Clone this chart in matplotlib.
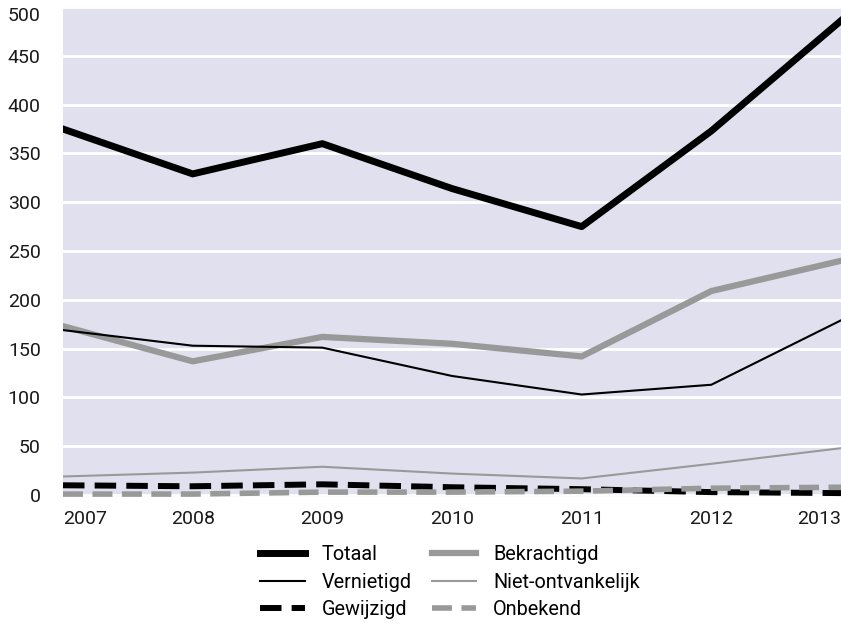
import matplotlib
matplotlib.use("Agg")
import matplotlib.pyplot as plt

plt.rcParams['font.family'] = ['Roboto', 'DejaVu Sans']

years = [2007, 2008, 2009, 2010, 2011, 2012, 2013]
totaal = [375, 329, 360, 314, 275, 373, 486]
bekrachtigd = [173, 137, 162, 155, 142, 209, 240]
vernietigd = [169, 153, 151, 122, 103, 113, 179]
niet_ontvankelijk = [19, 23, 29, 22, 17, 32, 48]
gewijzigd = [10, 9, 11, 8, 6, 3, 2]
onbekend = [1, 1, 3, 3, 4, 7, 8]
yticks = [0, 50, 100, 150, 200, 250, 300, 350, 400, 450, 500]

bg = '#e1e0ef'
grey = '#999999'
dash = (0, (3.6, 1.7))

fig = plt.figure(figsize=(8.41, 6.25), dpi=100)
ax = fig.add_axes([63/841, 1 - 497/625, 1 - 63/841, (497 - 7)/625])
ax.set_facecolor(bg)

h_tot, = ax.plot(years, totaal, color='black', lw=5, label='Totaal', zorder=6)
h_bek, = ax.plot(years, bekrachtigd, color=grey, lw=4.5, label='Bekrachtigd', zorder=4)
h_ver, = ax.plot(years, vernietigd, color='black', lw=1.5, label='Vernietigd', zorder=5)
h_nie, = ax.plot(years, niet_ontvankelijk, color=grey, lw=1.5, label='Niet-ontvankelijk', zorder=4)
h_gew, = ax.plot(years, gewijzigd, color='black', lw=4.3, ls=dash, label='Gewijzigd', zorder=4)
h_onb, = ax.plot(years, onbekend, color=grey, lw=4.0, ls=dash, label='Onbekend', zorder=5)

ax.set_xlim(2007, 2013)
ax.set_ylim(-2, 500)
ax.set_yticks(yticks)
ax.set_xticks(years)
ax.set_xticklabels([str(y) for y in years])
labels = ax.get_xticklabels()
labels[0].set_horizontalalignment('left')
labels[-1].set_horizontalalignment('right')
ylabels = ax.get_yticklabels()
ylabels[-1].set_verticalalignment('top')

ax.grid(axis='y', color='white', lw=2)
ax.set_axisbelow(True)
for s in ax.spines.values():
    s.set_visible(False)
ax.tick_params(axis='both', length=0, labelsize=14, colors='#1a1a1a')
ax.tick_params(axis='y', pad=16)
ax.tick_params(axis='x', pad=9)

fig.legend(handles=[h_tot, h_ver, h_gew, h_bek, h_nie, h_onb], ncol=2,
           loc='center', bbox_to_anchor=(450/841, 1 - 582/625), frameon=False,
           fontsize=14.3, handlelength=2.25, handletextpad=0.85, columnspacing=1.0,
           labelspacing=0.42, borderaxespad=0, borderpad=0)

fig.savefig('out.png', dpi=100)
